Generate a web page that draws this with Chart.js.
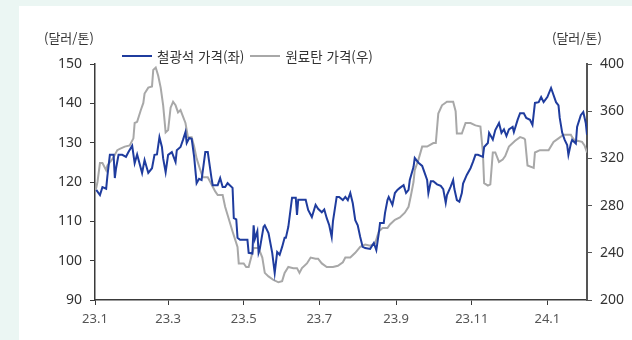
<!DOCTYPE html>
<html lang="ko">
<head>
<meta charset="utf-8">
<title>철광석·원료탄 가격</title>
<script src="https://cdn.jsdelivr.net/npm/chart.js@4/dist/chart.umd.min.js"></script>
<style>
  html, body {
    margin: 0;
    padding: 0;
    width: 632px;
    height: 340px;
    overflow: hidden;
    background: #ebf6f3;
    font-family: "Noto Sans CJK KR", "Noto Sans", sans-serif;
  }
  .panel {
    position: absolute;
    left: 19px;
    top: 6px;
    width: 613px;
    height: 334px;
    background: #ffffff;
  }
  #price-chart {
    position: absolute;
    left: 0;
    top: 0;
  }
  .unit {
    position: absolute;
    top: 22px;
    font-size: 13px;
    color: #333;
    line-height: 20px;
  }
  .unit.left { left: 25px; }
  .unit.right { left: 533px; }
  .legend {
    position: absolute;
    top: 40px;
    left: 103px;
    display: flex;
    align-items: center;
    font-size: 13.5px;
    color: #333;
    line-height: 20px;
  }
  .legend-item {
    display: flex;
    align-items: center;
    margin-right: 6px;
  }
  .legend-swatch {
    width: 30px;
    height: 0;
    border-top-style: solid;
    margin-right: 5px;
  }
</style>
</head>
<body>
<div class="panel">
  <canvas id="price-chart" width="613" height="334"></canvas>
  <div class="unit left">(달러/톤)</div>
  <div class="unit right">(달러/톤)</div>
  <div class="legend" id="legend"></div>
</div>
<script>
// days counted from 2023-01-01
const tickDays = [0, 59, 120, 181, 243, 304, 365];
const tickLabels = ["23.1", "23.3", "23.5", "23.7", "23.9", "23.11", "24.1"];

// iron ore price, USD/t (left axis)
const oreDays = [
  1, 4, 6, 9, 10, 12, 15, 16, 17, 19, 22, 25, 27, 30, 32, 34, 38, 40, 43, 46,
  48, 50, 52, 54, 55, 57, 59, 62, 65, 66, 69, 71, 73, 74, 76, 78, 80, 82, 84, 86,
  89, 91, 94, 95, 99, 101, 103, 105, 107, 111, 112, 114, 115, 117, 123, 124, 127, 128, 129, 131,
  132, 133, 136, 137, 140, 143, 145, 147, 149, 151, 153, 154, 156, 159, 162, 163, 164, 167, 170, 172,
  175, 178, 180, 183, 185, 187, 189, 191, 192, 195, 197, 200, 202, 204, 206, 208, 210, 212, 214, 216,
  218, 222, 225, 227, 229, 230, 233, 234, 236, 237, 240, 242, 244, 246, 249, 251, 253, 254, 257, 258,
  261, 264, 266, 268, 269, 271, 273, 276, 279, 281, 283, 284, 287, 289, 290, 292, 294, 296, 297, 300,
  303, 305, 307, 309, 313, 314, 317, 318, 321, 323, 326, 328, 330, 332, 334, 337, 338, 341, 343, 346,
  348, 351, 353, 355, 358, 360, 362, 365, 368, 369, 372, 374, 375, 377, 379, 381, 382, 384, 385, 388,
  389, 392, 394, 396, 397
];
const orePrice = [
  118, 116.7, 118.7, 118.3, 121.5, 126.9, 126.9, 121, 123.5, 126.9, 126.9, 126.4, 127.6, 129.2, 124.8, 127, 122.3, 125.6, 122.3, 123.5,
  126.9, 127, 131.4, 128.9, 126, 122.5, 126.9, 127.6, 125.1, 128.1, 128.9, 130.7, 132.7, 129.9, 131.2, 131, 126.4, 119.7, 120.8, 120.5,
  127.6, 127.6, 121, 119.2, 119.2, 121, 118.7, 118.7, 119.7, 118.5, 110.8, 110.5, 105.8, 105.3, 105.3, 102, 101.8, 109, 105.5, 107.5,
  102, 103, 108.6, 109, 107, 102, 96.9, 102.2, 101.5, 103.5, 105.8, 105.8, 108.6, 116, 116, 111.6, 115.5, 115.5, 115.5, 112.9,
  111.1, 114.2, 113.2, 112.3, 113, 110.8, 109, 106, 110, 116.2, 116.2, 115.4, 116.2, 115.4, 117.2, 114.6, 110.3, 109, 106, 103.5,
  103.2, 103, 104.5, 102.7, 107, 109.6, 109.6, 112.1, 115.4, 116.2, 114.2, 117.2, 118, 118.5, 119.2, 117.2, 118, 120.5, 123.8, 126.1,
  124.9, 124.1, 122.3, 120.5, 117.2, 120.2, 120.2, 119.4, 119, 118.2, 114.7, 116.7, 118.8, 120.5, 118.2, 115.4, 115, 117.2, 119.6, 121.8,
  123.5, 125.1, 126.9, 126.9, 126.4, 128.9, 129.9, 132.5, 130.8, 133.2, 135, 132.5, 133.4, 131.7, 133.4, 134, 132.7, 135.8, 137.5, 137.5,
  136.3, 135.8, 134.5, 140.1, 140.3, 141.6, 140.3, 141.6, 143.9, 143, 140.3, 139.5, 136.3, 132.5, 130.7, 129.4, 126.9, 129.8, 130.7, 129.8,
  134, 137, 137.8, 135, 132
];

// coking coal price, USD/t (right axis)
const coalDays = [
  0, 1, 2, 4, 6, 9, 10, 13, 15, 18, 20, 24, 28, 31, 32, 34, 37, 39, 40, 43,
  46, 47, 49, 51, 53, 55, 57, 59, 61, 63, 65, 67, 69, 73, 75, 78, 80, 82, 85, 87,
  91, 95, 97, 99, 103, 105, 107, 111, 115, 116, 120, 122, 124, 126, 128, 132, 135, 137, 140, 144,
  148, 151, 153, 156, 160, 163, 165, 167, 171, 174, 178, 180, 183, 187, 192, 196, 200, 202, 206, 210,
  214, 218, 222, 226, 229, 232, 236, 238, 242, 246, 250, 253, 255, 257, 258, 261, 264, 268, 273, 275,
  277, 280, 284, 289, 291, 292, 296, 299, 303, 307, 311, 313, 314, 317, 319, 321, 323, 326, 329, 331,
  334, 339, 343, 346, 347, 349, 354, 355, 359, 366, 370, 374, 378, 384, 385, 388, 389, 393, 395, 397
];
const coalPrice = [
  293, 295, 300, 316, 316, 310, 314, 318, 321, 327, 328, 330, 331, 337, 350, 351, 361, 367, 375, 380,
  381, 395, 397, 390, 380, 365, 342, 344, 363, 368, 365, 359, 361, 350, 338, 338, 330, 320, 310, 304,
  304, 296, 292, 289, 289, 279, 272, 258, 245, 231, 231, 228, 228, 236, 244, 244, 236, 223, 220, 217,
  215, 216, 223, 228, 227, 227, 223, 227, 231, 236, 235, 235, 231, 228, 228, 229, 232, 236, 236, 240,
  245, 247, 246, 248, 258, 261, 261, 264, 268, 270, 274, 279, 289, 300, 310, 319, 330, 330, 333, 333,
  358, 365, 368, 368, 360, 341, 341, 350, 350, 348, 347, 325, 299, 297, 298, 325, 325, 317, 319, 322,
  330, 335, 338, 337, 336, 314, 312, 325, 327, 327, 334, 337, 340, 340, 338, 334, 335, 334, 331, 325
];

const toPoints = (days, values) => days.map((d, i) => ({ x: d, y: values[i] }));

const axisColor = "#3a3a3a";
const tickFont = { family: "'Noto Sans', sans-serif", size: 14 };

const chart = new Chart(document.getElementById("price-chart"), {
  type: "line",
  data: {
    datasets: [
      {
        label: "철광석 가격(좌)",
        data: toPoints(oreDays, orePrice),
        borderColor: "#1f3c9e",
        borderWidth: 2,
        yAxisID: "yLeft"
      },
      {
        label: "원료탄 가격(우)",
        data: toPoints(coalDays, coalPrice),
        borderColor: "#a8a8a8",
        borderWidth: 2,
        yAxisID: "yRight"
      }
    ]
  },
  options: {
    responsive: false,
    devicePixelRatio: 1,
    animation: false,
    layout: { padding: { top: 58, left: 0, right: 0, bottom: 0 } },
    elements: {
      point: { radius: 0 },
      line: { tension: 0 }
    },
    plugins: {
      legend: { display: false },
      tooltip: { enabled: false }
    },
    scales: {
      x: {
        type: "linear",
        min: 0,
        max: 397,
        afterBuildTicks: (scale) => {
          scale.ticks = tickDays.map((value) => ({ value }));
        },
        afterFit: (scale) => {
          scale.height = 40;
        },
        border: { display: true, color: axisColor, width: 1.5 },
        grid: { drawOnChartArea: false, drawTicks: true, tickLength: 5, color: axisColor },
        ticks: {
          padding: 6,
          maxRotation: 0,
          autoSkip: false,
          color: "#555",
          font: { family: "'Noto Sans', sans-serif", size: 13 },
          callback: (value) => tickLabels[tickDays.indexOf(value)]
        }
      },
      yLeft: {
        position: "left",
        min: 90,
        max: 150,
        afterFit: (scale) => {
          scale.width = 76;
        },
        border: { display: true, color: axisColor, width: 1.5 },
        grid: { drawOnChartArea: false, drawTicks: true, tickLength: 5, color: axisColor },
        ticks: { stepSize: 10, padding: 8, color: "#333", font: tickFont }
      },
      yRight: {
        position: "right",
        min: 200,
        max: 400,
        afterFit: (scale) => {
          scale.width = 45;
        },
        border: { display: true, color: "#555", width: 2 },
        grid: { drawOnChartArea: false, drawTicks: true, tickLength: 5, color: "#555" },
        ticks: { stepSize: 40, padding: 8, color: "#333", font: tickFont }
      }
    }
  }
});

// legend built from the datasets
document.getElementById("legend").innerHTML = chart.data.datasets
  .map(
    (ds) => `
      <div class="legend-item">
        <span class="legend-swatch" style="border-top-color:${ds.borderColor};border-top-width:${ds.borderWidth + 0.5}px"></span>
        <span>${ds.label}</span>
      </div>
    `
  )
  .join("");
</script>
</body>
</html>
